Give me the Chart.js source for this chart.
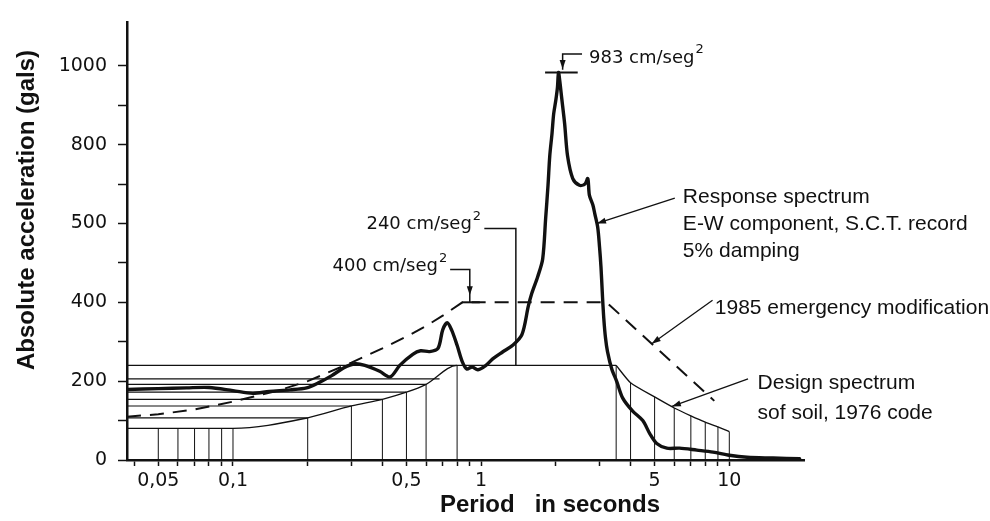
<!DOCTYPE html>
<html>
<head>
<meta charset="utf-8">
<script src="https://cdn.jsdelivr.net/npm/chart.js@4.4.1/dist/chart.umd.min.js"></script>
<style>
  html, body { margin: 0; padding: 0; background: #fff; }
  canvas { display: block; }
</style>
</head>
<body>
<canvas id="myChart" width="990" height="521"></canvas>
<script>
const ink = '#111';

//Axis range + ticks (period is log scale)
const periodMin = 0.0374, periodMax = 20;
const xTickValues = [0.04, 0.05, 0.06, 0.07, 0.08, 0.09, 0.1, 0.2, 0.3, 0.4, 0.5, 0.6, 0.7, 0.8, 0.9, 1, 2, 3, 4, 5, 6, 7, 8, 9, 10];
const xTickLabels = ['', '0,05', '', '', '', '', '0,1', '', '', '', '0,5', '', '', '', '', '1', '', '', '', '5', '', '', '', '', '10'];
const yTickValues = [0, 100, 200, 300, 400, 500, 600, 700, 800, 900, 1000];
//the original figure really prints 500 at the 600 tick
const yTickLabels = ['0', '', '200', '', '400', '', '500', '', '800', '', '1000'];

//Response spectrum, E-W component, S.C.T. record, 5% damping
const respPeriod = [0.0374, 0.05, 0.065, 0.08, 0.1, 0.12, 0.14, 0.17, 0.198, 0.22, 0.25, 0.28, 0.31, 0.34, 0.39, 0.43,
  0.47, 0.53, 0.57, 0.62, 0.67, 0.70, 0.73, 0.76, 0.80, 0.84, 0.875, 0.92, 0.97, 1.05, 1.11, 1.22, 1.34, 1.46,
  1.55, 1.60, 1.69, 1.77, 1.82, 1.86, 1.89, 1.93, 1.96, 2.0, 2.03, 2.05, 2.08, 2.11, 2.17, 2.23, 2.34, 2.49, 2.62,
  2.69, 2.73, 2.82, 2.87, 2.95, 3.0, 3.04, 3.08, 3.12, 3.17, 3.23, 3.36, 3.52, 3.72, 4.08, 4.48, 4.78, 5.1, 5.6,
  6.3, 7.4, 8.6, 10, 11.8, 15, 19.2];
const respAccel = [179, 181, 183, 184, 176, 169, 174, 178, 183, 195, 214, 234, 244, 240, 225, 211,
  240, 268, 277, 275, 283, 330, 348, 330, 291, 249, 231, 236, 229, 241, 256, 274, 291, 318,
  391, 423, 465, 510, 614, 697, 771, 828, 878, 913, 945, 983, 955, 920, 853, 771, 714, 697, 700,
  714, 672, 647, 625, 590, 540, 490, 420, 360, 310, 275, 231, 199, 157, 124, 100, 67, 42, 30,
  30, 25, 20, 12, 7, 5, 3];

//1985 emergency modification (dashed)
const emPeriod = [0.0374, 0.05, 0.07, 0.1, 0.15, 0.2, 0.3, 0.4, 0.5, 0.6, 0.7, 0.84, 3.2, 8.7];
const emAccel = [110, 116, 128, 148, 175, 200, 247, 283, 313, 340, 366, 400, 400, 150];

//Design spectrum, soft soil, 1976 code
const designPeriod = [0.0374, 0.1, 0.2, 0.3, 0.4, 0.5, 0.6, 0.8, 3.5, 4, 5, 6, 7, 8, 9, 10];
const designAccel = [80, 80, 107, 137, 154, 172, 192, 240, 240, 196, 160, 132, 112, 96, 84, 72];
const designPlateauEnd = 8; //index where the falling branch starts

//vertical hatching under the design spectrum
const hatchPeriod = [0.05, 0.06, 0.07, 0.08, 0.09, 0.1, 0.2, 0.3, 0.4, 0.5, 0.6, 0.8, 3.5, 4, 5, 6, 7, 8, 9, 10];
const hatchAccel = [80, 80, 80, 80, 80, 80, 107, 137, 154, 172, 192, 240, 240, 196, 160, 132, 112, 96, 84, 72];

//horizontal lines from the axis to the design curve
const levelAccel = [107, 137, 154, 172, 192, 206, 240];
const levelEnd = [0.2, 0.3, 0.4, 0.5, 0.6, 0.68, 0.8];


const toPts = (xs, ys) => xs.map((x, i) => ({ x: x, y: ys[i] }));

const datasets = [
  {
    data: toPts(respPeriod, respAccel),
    borderColor: ink, borderWidth: 3.4, tension: 0.3,
    borderJoinStyle: 'round', borderCapStyle: 'round'
  },
  {
    data: toPts(emPeriod, emAccel),
    borderColor: ink, borderWidth: 2, borderDash: [14, 9], tension: 0
  },
  //rising part + plateau
  {
    data: toPts(designPeriod.slice(0, designPlateauEnd + 1), designAccel.slice(0, designPlateauEnd + 1)),
    borderColor: ink, borderWidth: 1.3, cubicInterpolationMode: 'monotone'
  },
  //falling branch, corner kept sharp
  {
    data: toPts(designPeriod.slice(designPlateauEnd), designAccel.slice(designPlateauEnd)),
    borderColor: ink, borderWidth: 1.3, tension: 0.2
  }
];

hatchPeriod.forEach((p, i) => {
  datasets.push({
    data: [{ x: p, y: 0 }, { x: p, y: hatchAccel[i] }],
    borderColor: ink, borderWidth: 1
  });
});

levelAccel.forEach((a, i) => {
  datasets.push({
    data: [{ x: periodMin, y: a }, { x: levelEnd[i], y: a }],
    borderColor: ink, borderWidth: 1.2
  });
});


function arrowHead(ctx, x0, y0, x1, y1) {
  const a = Math.atan2(y1 - y0, x1 - x0), len = 9, half = 3;
  ctx.beginPath();
  ctx.moveTo(x1, y1);
  ctx.lineTo(x1 - len * Math.cos(a) + half * Math.sin(a), y1 - len * Math.sin(a) - half * Math.cos(a));
  ctx.lineTo(x1 - len * Math.cos(a) - half * Math.sin(a), y1 - len * Math.sin(a) + half * Math.cos(a));
  ctx.closePath();
  ctx.fill();
}

function line(ctx, pts) {
  ctx.beginPath();
  ctx.moveTo(pts[0][0], pts[0][1]);
  for (let i = 1; i < pts.length; i++) ctx.lineTo(pts[i][0], pts[i][1]);
  ctx.stroke();
}

//"xxx cm/seg" with the little 2 on top
function unitText(ctx, txt, x, y, alignRight) {
  ctx.font = '18px "DejaVu Sans"';
  const w1 = ctx.measureText(txt).width;
  ctx.font = '13px "DejaVu Sans"';
  const w2 = ctx.measureText('2').width;
  const left = alignRight ? x - w1 - w2 - 1 : x;
  ctx.textAlign = 'left';
  ctx.textBaseline = 'middle';
  ctx.font = '18px "DejaVu Sans"';
  ctx.fillText(txt, left, y);
  ctx.font = '13px "DejaVu Sans"';
  ctx.fillText('2', left + w1 + 1, y - 8);
}

const notesPlugin = {
  id: 'notes',
  afterDatasetsDraw(chart) {
    const ctx = chart.ctx;
    const X = v => chart.scales.x.getPixelForValue(v);
    const Y = v => chart.scales.y.getPixelForValue(v);
    ctx.save();
    ctx.strokeStyle = ink;
    ctx.fillStyle = ink;
    ctx.lineWidth = 1.5;

    //983 peak
    ctx.lineWidth = 2;
    line(ctx, [[X(1.81), Y(983)], [X(2.45), Y(983)]]);
    ctx.lineWidth = 1.5;
    line(ctx, [[X(2.55), Y(1030)], [X(2.13), Y(1030)], [X(2.13), Y(990)]]);
    arrowHead(ctx, X(2.13), Y(1030), X(2.13), Y(992));
    unitText(ctx, '983 cm/seg', X(2.72), Y(1020), false);

    //240 leader
    line(ctx, [[X(1.03), Y(587)], [X(1.38), Y(587)], [X(1.38), Y(240)]]);
    unitText(ctx, '240 cm/seg', X(1.0), Y(597), true);

    //400 leader
    line(ctx, [[X(0.75), Y(483)], [X(0.90), Y(483)], [X(0.90), Y(400)]]);
    arrowHead(ctx, X(0.90), Y(483), X(0.90), Y(418));
    ctx.lineWidth = 2;
    line(ctx, [[X(0.837), Y(400)], [X(0.988), Y(400)]]);
    ctx.lineWidth = 1.5;
    unitText(ctx, '400 cm/seg', X(0.73), Y(490), true);

    //right hand labels
    ctx.lineWidth = 1.3;
    line(ctx, [[X(6.03), Y(664)], [X(2.93), Y(600)]]);
    arrowHead(ctx, X(6.03), Y(664), X(2.93), Y(600));
    line(ctx, [[X(8.56), Y(405)], [X(4.87), Y(295)]]);
    arrowHead(ctx, X(8.56), Y(405), X(4.87), Y(295));
    line(ctx, [[X(11.9), Y(206)], [X(5.87), Y(136)]]);
    arrowHead(ctx, X(11.9), Y(206), X(5.87), Y(136));

    ctx.font = '21px "Liberation Sans", Arial, sans-serif';
    ctx.textAlign = 'left';
    ctx.textBaseline = 'middle';
    ctx.fillText('Response spectrum', X(6.5), Y(667));
    ctx.fillText('E-W component, S.C.T. record', X(6.5), Y(597));
    ctx.fillText('5% damping', X(6.5), Y(530));
    ctx.fillText('1985 emergency modification', X(8.74), Y(386));
    ctx.fillText('Design spectrum', X(13.0), Y(194));
    ctx.fillText('sof soil, 1976 code', X(13.0), Y(119));
    ctx.restore();
  },
  afterDraw(chart) {
    //axis titles, placed like the printed figure (not centred on the axes)
    const ctx = chart.ctx;
    ctx.save();
    ctx.fillStyle = ink;
    ctx.font = 'bold 24px "Liberation Sans", Arial, sans-serif';
    ctx.textAlign = 'center';
    ctx.textBaseline = 'middle';
    ctx.fillText('Period   in seconds', 550, 505);
    ctx.translate(27, 210);
    ctx.rotate(-Math.PI / 2);
    ctx.fillText('Absolute acceleration (gals)', 0, 0);
    ctx.restore();
  }
};

Chart.defaults.font.family = '"DejaVu Sans", sans-serif';
Chart.defaults.color = ink;

const ctx = document.getElementById('myChart').getContext('2d');
const myChart = new Chart(ctx, {
  type: 'line',
  data: { datasets: datasets },
  options: {
    responsive: false,
    animation: false,
    devicePixelRatio: 1,
    layout: { padding: { top: 13, right: 186, left: 0, bottom: 0 } },
    plugins: { legend: { display: false }, tooltip: { enabled: false } },
    elements: { point: { radius: 0 } },
    scales: {
      x: {
        type: 'logarithmic',
        min: periodMin,
        max: periodMax,
        afterBuildTicks: s => { s.ticks = xTickValues.map(v => ({ value: v })); },
        afterFit: s => { s.height = 61; },
        grid: { drawOnChartArea: false, drawTicks: true, tickLength: 6, tickWidth: 1.5, tickColor: ink },
        border: { display: true, color: ink, width: 2.5 },
        ticks: {
          autoSkip: false, maxRotation: 0, padding: 4, color: ink,
          font: { size: 19 },
          callback: (v, i) => xTickLabels[i]
        }
      },
      y: {
        type: 'linear',
        min: 0,
        max: 1110,
        afterBuildTicks: s => { s.ticks = yTickValues.map(v => ({ value: v })); },
        afterFit: s => { s.width = 127; },
        grid: { drawOnChartArea: false, drawTicks: true, tickLength: 9, tickWidth: 1.5, tickColor: ink },
        border: { display: true, color: ink, width: 2.5 },
        ticks: {
          autoSkip: false, padding: 11, color: ink,
          font: { size: 19 },
          callback: (v, i) => yTickLabels[i]
        }
      }
    }
  },
  plugins: [notesPlugin]
});
</script>
</body>
</html>
